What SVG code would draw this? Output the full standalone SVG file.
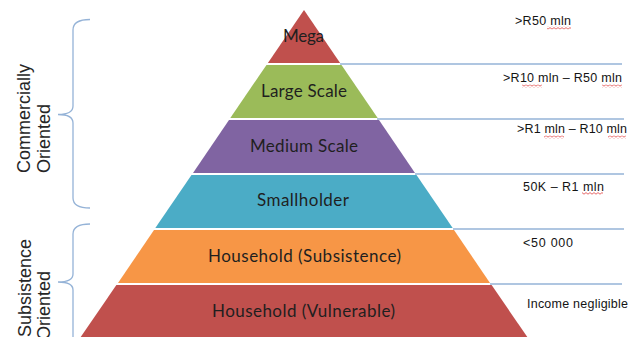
<svg xmlns="http://www.w3.org/2000/svg" width="632" height="337" viewBox="0 0 632 337">
<style>
.band-label{font-family:Lato,"Liberation Sans",sans-serif;font-size:17px;fill:#1f1f1f;text-anchor:middle}
.range{font-family:"Liberation Sans",Arial,sans-serif;font-size:12.5px;fill:#141414}
.side{font-family:"Liberation Sans",Arial,sans-serif;font-size:18px;fill:#262626}
.guide{stroke:#95B3D7;stroke-width:1.3;fill:none}
.brace{stroke:#95B3D7;stroke-width:1.3;fill:none}
</style>
<defs>
<pattern id="wave" patternUnits="userSpaceOnUse" width="4" height="3">
<path d="M0,2.2 L2,0.6 L4,2.2" stroke="#E04040" stroke-width="0.8" fill="none"/>
</pattern>
</defs>
<rect width="632" height="337" fill="#ffffff"/>

<g id="connectors">
<line class="guide" x1="340" y1="64" x2="622" y2="64"/>
<line class="guide" x1="377" y1="119" x2="624" y2="119"/>
<line class="guide" x1="415" y1="174" x2="624" y2="174"/>
<line class="guide" x1="453" y1="229" x2="624" y2="229"/>
<line class="guide" x1="490" y1="284" x2="622" y2="284"/>
</g>

<g id="mega">
<polygon points="304,10 340.1,63 267.9,63" fill="#C0504D"/>
<text class="band-label" x="303.5" y="41.5" textLength="41">Mega</text>
</g>
<g id="large-scale">
<polygon points="266.5,65 341.5,65 377.7,118 230.3,118" fill="#9BBB59"/>
<text class="band-label" x="304" y="96.5" textLength="86">Large Scale</text>
</g>
<g id="medium-scale">
<polygon points="229,120 379,120 415,173 193,173" fill="#8064A2"/>
<text class="band-label" x="304" y="151.5" textLength="108">Medium Scale</text>
</g>
<g id="smallholder">
<polygon points="191.5,175 416.5,175 452.7,228 155.3,228" fill="#4BACC6"/>
<text class="band-label" x="303" y="206" textLength="92">Smallholder</text>
</g>
<g id="household-subsistence">
<polygon points="154,230 454,230 490,283 118,283" fill="#F79646"/>
<text class="band-label" x="304.5" y="261.5" textLength="193">Household (Subsistence)</text>
</g>
<g id="household-vulnerable">
<polygon points="116.4,285 491.6,285 528,338 80,338" fill="#C0504D"/>
<text class="band-label" x="303.5" y="316.5" textLength="183">Household (Vulnerable)</text>
</g>

<g id="ranges">
<text class="range" x="515" y="24.5" textLength="56">&gt;R50 mln</text>
<text class="range" x="503" y="81.5" textLength="119">&gt;R10 mln – R50 mln</text>
<text class="range" x="517" y="132.5" textLength="110">&gt;R1 mln – R10 mln</text>
<text class="range" x="523" y="190.5" textLength="81">50K – R1 mln</text>
<text class="range" x="523" y="246.5" textLength="50">&lt;50 000</text>
<text class="range" x="527" y="307.5" textLength="101">Income negligible</text>
<rect x="547" y="26.5" width="24" height="3" fill="url(#wave)"/>
<rect x="522" y="84.5" width="20" height="3" fill="url(#wave)"/>
<rect x="602" y="84.5" width="20" height="3" fill="url(#wave)"/>
<rect x="544" y="135.5" width="20" height="3" fill="url(#wave)"/>
<rect x="608" y="135.5" width="18" height="3" fill="url(#wave)"/>
<rect x="582" y="192" width="21" height="3" fill="url(#wave)"/>
</g>

<g id="commercially-oriented">
<path class="brace" d="M90,19.5 Q73,19.5 73,30 L73,106 Q73,114.5 58,114.5 Q73,114.5 73,123 L73,198 Q73,208 90,208"/>
<text class="side" transform="translate(30,173) rotate(-90)">Commercially</text>
<text class="side" transform="translate(50,173) rotate(-90)">Oriented</text>
</g>
<g id="subsistence-oriented">
<path class="brace" d="M90,224 Q73,224 73,234 L73,274 Q73,282 58,282 Q73,282 73,290 L73,340"/>
<text class="side" transform="translate(31,337) rotate(-90)">Subsistence</text>
<text class="side" transform="translate(50,340) rotate(-90)">Oriented</text>
</g>
</svg>
